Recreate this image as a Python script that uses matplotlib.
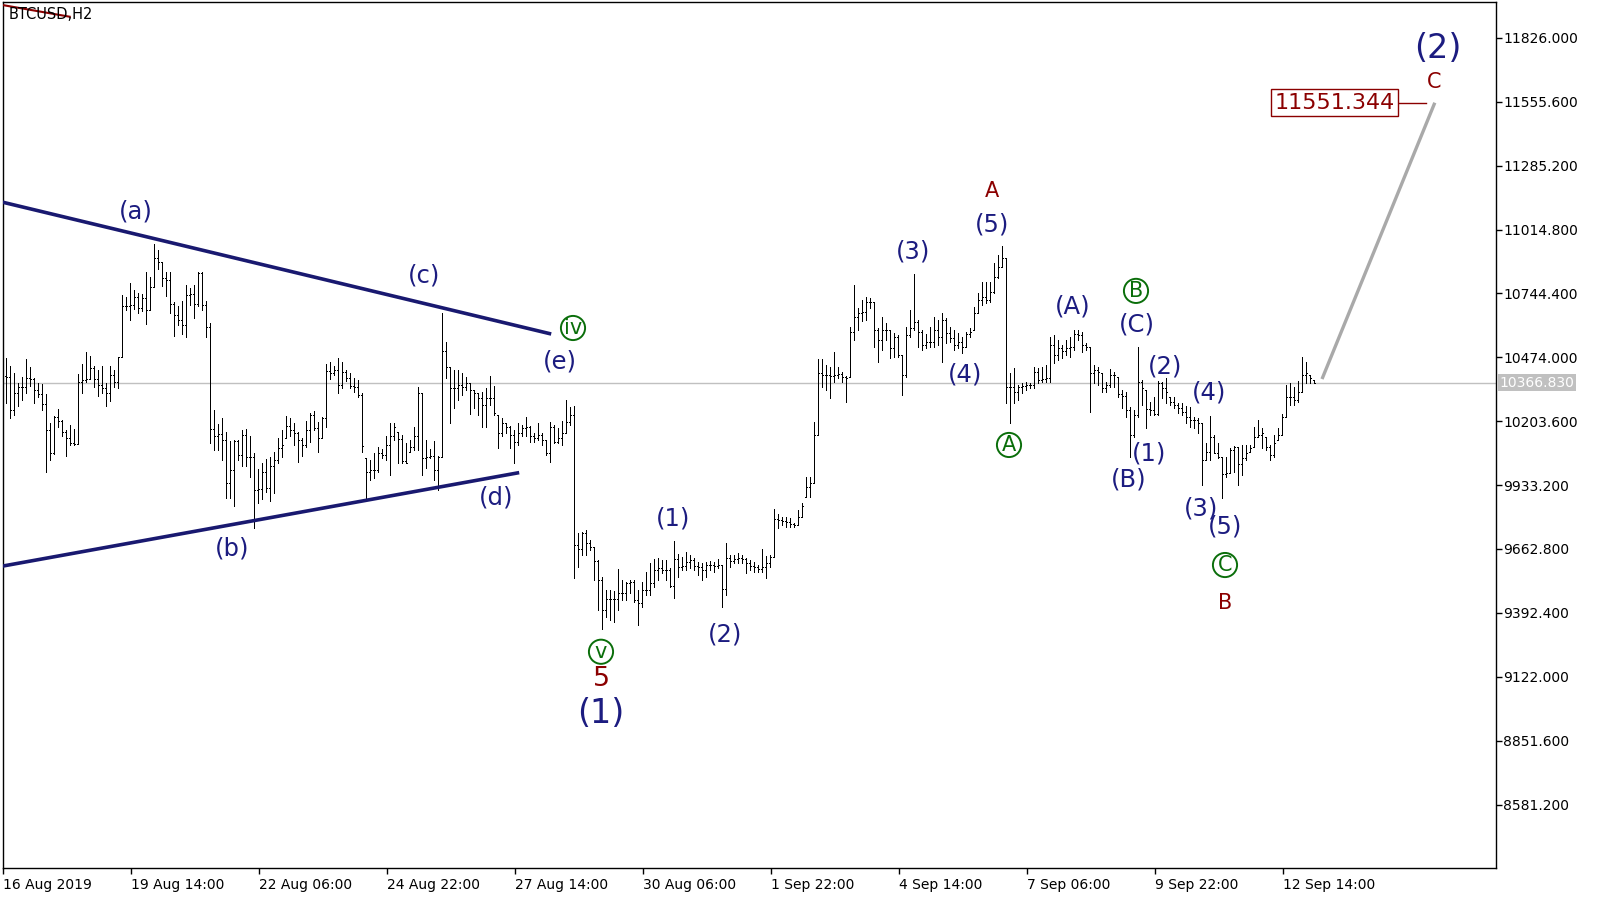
import matplotlib
matplotlib.use('Agg')
import matplotlib.pyplot as plt
import numpy as np
from matplotlib.transforms import blended_transform_factory

# ---------------- data (BTCUSD, H2 bars) ----------------
highs = [
    10470, 10438, 10406, 10364, 10392, 10467, 10431, 10385, 10364, 10361,
    10319, 10195, 10226, 10256, 10209, 10167, 10188, 10171, 10404, 10446,
    10495, 10480, 10439, 10421, 10438, 10364, 10438, 10421, 10477, 10737,
    10731, 10790, 10759, 10745, 10742, 10833, 10813, 10954, 10926, 10876,
    10833, 10833, 10710, 10689, 10714, 10780, 10766, 10780, 10833, 10833,
    10714, 10621, 10251, 10192, 10219, 10160, 10118, 10122, 10122, 10167,
    10171, 10142, 10068, 10003, 10026, 10043, 10054, 10073, 10132, 10167,
    10226, 10216, 10195, 10160, 10131, 10205, 10240, 10248, 10202, 10220,
    10446, 10456, 10437, 10473, 10456, 10420, 10409, 10385, 10378, 10322,
    10047, 10040, 10071, 10096, 10085, 10139, 10195, 10195, 10160, 10146,
    10110, 10124, 10181, 10347, 10322, 10124, 10085, 10121, 10056, 10660,
    10540, 10434, 10420, 10420, 10406, 10392, 10367, 10336, 10322, 10329,
    10343, 10395, 10353, 10230, 10216, 10195, 10183, 10167, 10195, 10188,
    10223, 10183, 10153, 10195, 10153, 10124, 10202, 10188, 10174, 10206,
    10293, 10265, 10268, 9729, 9736, 9743, 9701, 9673, 9616, 9546,
    9489, 9489, 9486, 9577, 9532, 9525, 9532, 9532, 9489, 9525,
    9567, 9602, 9619, 9623, 9616, 9616, 9581, 9697, 9642, 9630,
    9652, 9637, 9623, 9609, 9602, 9609, 9612, 9609, 9619, 9595,
    9687, 9637, 9637, 9645, 9637, 9623, 9616, 9609, 9595, 9661,
    9633, 9637, 9831, 9811, 9800, 9800, 9793, 9774, 9828, 9856,
    9969, 9969, 10202, 10465, 10465, 10441, 10434, 10498, 10434, 10413,
    10395, 10604, 10780, 10681, 10716, 10731, 10724, 10709, 10597, 10643,
    10618, 10590, 10576, 10568, 10484, 10604, 10674, 10827, 10632, 10590,
    10573, 10604, 10643, 10632, 10660, 10639, 10604, 10590, 10578, 10561,
    10583, 10597, 10688, 10745, 10794, 10794, 10794, 10872, 10907, 10945,
    10893, 10406, 10427, 10357, 10364, 10371, 10367, 10434, 10427, 10434,
    10441, 10561, 10568, 10547, 10526, 10547, 10561, 10590, 10590, 10583,
    10533, 10519, 10441, 10434, 10406, 10371, 10423, 10413, 10392, 10336,
    10329, 10265, 10251, 10519, 10378, 10336, 10286, 10308, 10374, 10371,
    10385, 10308, 10305, 10279, 10279, 10268, 10262, 10223, 10216, 10195,
    10110, 10226, 10145, 10110, 10054, 10054, 10089, 10099, 10096, 10103,
    10103, 10103, 10181, 10209, 10174, 10138, 10103, 10145, 10174, 10234,
    10357, 10364, 10350, 10374, 10474, 10456, 10399, 10378,
]
lows = [
    10280, 10219, 10230, 10266, 10294, 10322, 10354, 10282, 10308, 10251,
    9990, 10040, 10065, 10181, 10139, 10057, 10103, 10103, 10106, 10322,
    10371, 10381, 10350, 10312, 10322, 10266, 10291, 10350, 10343, 10474,
    10675, 10632, 10677, 10663, 10668, 10615, 10675, 10770, 10847, 10776,
    10734, 10660, 10565, 10611, 10573, 10558, 10696, 10639, 10689, 10675,
    10558, 10110, 10082, 10082, 10040, 9878, 9878, 9843, 10040, 10012,
    10015, 9967, 9751, 9857, 9874, 9906, 9864, 9899, 10026, 10054,
    10131, 10139, 10103, 10033, 10058, 10096, 10117, 10167, 10075, 10131,
    10178, 10381, 10399, 10322, 10343, 10375, 10343, 10329, 10308, 10075,
    9878, 9955, 9962, 9990, 10047, 10040, 9976, 10125, 10028, 10028,
    10025, 10075, 10082, 10082, 9976, 10004, 10047, 9955, 9912, 10054,
    10385, 10195, 10258, 10293, 10315, 10336, 10234, 10258, 10230, 10181,
    10181, 10272, 10230, 10089, 10139, 10153, 10089, 10025, 10103, 10139,
    10139, 10117, 10117, 10124, 10103, 10061, 10033, 10110, 10110, 10103,
    10153, 10188, 9539, 9588, 9637, 9637, 9659, 9532, 9405, 9323,
    9377, 9362, 9355, 9405, 9447, 9447, 9475, 9440, 9341, 9419,
    9468, 9468, 9503, 9532, 9560, 9532, 9503, 9454, 9546, 9574,
    9574, 9581, 9574, 9553, 9532, 9546, 9574, 9567, 9581, 9419,
    9468, 9588, 9602, 9602, 9602, 9560, 9574, 9567, 9567, 9567,
    9539, 9588, 9630, 9750, 9764, 9757, 9757, 9757, 9764, 9800,
    9884, 9884, 9941, 10145, 10350, 10336, 10300, 10371, 10385, 10371,
    10286, 10392, 10547, 10589, 10629, 10632, 10681, 10519, 10456, 10505,
    10547, 10470, 10477, 10477, 10315, 10392, 10561, 10590, 10519, 10505,
    10512, 10519, 10519, 10526, 10456, 10533, 10540, 10505, 10512, 10491,
    10519, 10561, 10590, 10660, 10695, 10702, 10709, 10745, 10808, 10855,
    10279, 10197, 10279, 10293, 10322, 10336, 10343, 10343, 10364, 10371,
    10371, 10371, 10448, 10463, 10470, 10484, 10477, 10505, 10547, 10498,
    10505, 10244, 10364, 10357, 10329, 10329, 10350, 10350, 10308, 10258,
    10223, 10054, 10138, 10223, 10272, 10174, 10230, 10230, 10230, 10300,
    10279, 10272, 10258, 10237, 10230, 10195, 10181, 10174, 10152, 9934,
    10040, 10040, 10068, 10047, 9877, 9969, 9983, 9990, 9934, 9976,
    10040, 10075, 10096, 10138, 10089, 10082, 10040, 10054, 10124, 10145,
    10223, 10272, 10272, 10286, 10329, 10364, 10364, 10364,
]
closes = [
    10392, 10251, 10322, 10350, 10350, 10385, 10383, 10336, 10319, 10277,
    10167, 10071, 10223, 10205, 10160, 10132, 10110, 10106, 10368, 10378,
    10383, 10428, 10383, 10357, 10343, 10322, 10399, 10371, 10474, 10689,
    10692, 10695, 10731, 10682, 10724, 10675, 10770, 10893, 10876, 10811,
    10799, 10700, 10653, 10632, 10611, 10738, 10741, 10700, 10830, 10696,
    10601, 10171, 10139, 10150, 10122, 9941, 9998, 10118, 10061, 10144,
    10050, 10051, 9913, 9916, 9989, 9920, 10012, 10040, 10089, 10103,
    10183, 10167, 10155, 10124, 10103, 10167, 10230, 10174, 10131, 10216,
    10418, 10406, 10420, 10357, 10413, 10385, 10353, 10350, 10315, 10099,
    9990, 9997, 9997, 10068, 10061, 10103, 10139, 10181, 10127, 10035,
    10028, 10096, 10143, 10322, 10047, 10054, 10058, 9997, 10054, 10501,
    10432, 10343, 10343, 10357, 10350, 10364, 10336, 10324, 10300, 10272,
    10300, 10300, 10240, 10153, 10195, 10181, 10146, 10117, 10153, 10174,
    10181, 10139, 10131, 10146, 10124, 10068, 10181, 10117, 10131, 10153,
    10202, 10230, 9680, 9661, 9729, 9690, 9673, 9613, 9532, 9405,
    9450, 9450, 9450, 9475, 9478, 9518, 9525, 9447, 9433, 9489,
    9489, 9518, 9574, 9581, 9574, 9574, 9506, 9619, 9588, 9591,
    9609, 9616, 9591, 9588, 9574, 9595, 9595, 9591, 9595, 9492,
    9623, 9613, 9619, 9623, 9619, 9602, 9591, 9588, 9577, 9588,
    9602, 9630, 9788, 9786, 9783, 9779, 9769, 9764, 9800, 9845,
    9927, 9941, 10145, 10406, 10399, 10399, 10396, 10399, 10403, 10392,
    10385, 10583, 10646, 10660, 10667, 10709, 10709, 10590, 10547, 10590,
    10590, 10512, 10561, 10484, 10399, 10568, 10597, 10625, 10583, 10526,
    10540, 10540, 10590, 10561, 10632, 10575, 10554, 10526, 10540, 10519,
    10573, 10583, 10660, 10717, 10731, 10717, 10752, 10815, 10858, 10893,
    10350, 10350, 10329, 10350, 10353, 10357, 10357, 10413, 10378, 10381,
    10385, 10526, 10484, 10512, 10502, 10512, 10516, 10573, 10568, 10526,
    10516, 10406, 10420, 10413, 10343, 10357, 10399, 10399, 10319, 10310,
    10251, 10145, 10230, 10371, 10343, 10254, 10251, 10234, 10364, 10343,
    10329, 10286, 10272, 10258, 10244, 10220, 10209, 10209, 10195, 10040,
    10075, 10138, 10068, 10054, 9980, 9983, 10082, 10096, 10023, 10047,
    10068, 10092, 10138, 10145, 10152, 10096, 10061, 10110, 10145, 10223,
    10308, 10308, 10293, 10329, 10399, 10406, 10385, 10366.83,
]
first_open = 10395
# gapless bars: each bar opens where the previous one closed
opens = np.clip([first_open] + closes[:-1], lows, highs)

date_labels = ["16 Aug 2019", "19 Aug 14:00", "22 Aug 06:00", "24 Aug 22:00",
               "27 Aug 14:00", "30 Aug 06:00", "1 Sep 22:00", "4 Sep 14:00",
               "7 Sep 06:00", "9 Sep 22:00", "12 Sep 14:00"]
bars_per_label = 32
price_ticks = [8581.2, 8851.6, 9122.0, 9392.4, 9662.8, 9933.2, 10203.6,
               10474.0, 10744.4, 11014.8, 11285.2, 11555.6, 11826.0]
last_price = 10366.83
target_price = 11551.344

# ---------------- figure ----------------
NAVY = '#1c1c80'
LINE_NAVY = '#191970'
GREEN = '#0a6e0a'
MAROON = '#8b0000'

fig = plt.figure(figsize=(16.01, 9.0), dpi=100)
ax = fig.add_axes([2.5 / 1601, 32 / 900, 1493.5 / 1601, 866 / 900])
ax.set_xlim(-0.875, 372.5)
ax.set_ylim(8312.9, 11977.5)

x = np.arange(len(closes))
ax.axhline(last_price, color='#c0c0c0', lw=1.0, zorder=1)
ax.vlines(x, lows, highs, color='black', lw=0.72, antialiased=False, zorder=3)
ax.hlines(opens, x - 0.32, x, color='black', lw=0.72, antialiased=False, zorder=3)
ax.hlines(closes, x, x + 0.32, color='black', lw=0.72, antialiased=False, zorder=3)

# triangle trendlines
ax.plot([-1, 136.3], [11131, 10572.6], color=LINE_NAVY, lw=2.6,
        solid_capstyle='butt', zorder=4)
ax.plot([-1, 128.3], [9590, 9986], color=LINE_NAVY, lw=2.6,
        solid_capstyle='butt', zorder=4)

# projection line
ax.plot([329, 357.2], [10382, target_price], color='#a9a9a9', lw=2.4,
        solid_capstyle='butt', zorder=4)
ax.plot([348, 355], [target_price, target_price], color=MAROON, lw=1.0, zorder=4)
ax.text(332.1, target_price, f'{target_price:.3f}', color=MAROON, fontsize=16,
        ha='center', va='center', zorder=5,
        bbox=dict(boxstyle='square,pad=0.15', fc='white', ec=MAROON, lw=1.0))


def lab(xp, yp, s, size=17.5, color=NAVY, weight='normal'):
    ax.text(xp, yp, s, fontsize=size, color=color, ha='center', va='center',
            fontweight=weight, zorder=6)


def circ(xp, yp, s):
    ax.text(xp, yp, s, fontsize=15, color=GREEN, ha='center', va='center',
            zorder=6,
            bbox=dict(boxstyle='circle,pad=0.1', fc='none', ec=GREEN, lw=1.4))


lab(32.5, 11093, '(a)')
lab(56.5, 9663, '(b)')
lab(104.5, 10822, '(c)')
lab(122.5, 9879, '(d)')
lab(138.5, 10458, '(e)')
circ(141.75, 10598, 'iv')
circ(148.75, 9228, 'v')
lab(148.75, 9112, '5', size=19.5, color=MAROON)
lab(148.75, 8968, '(1)', size=24)
lab(166.75, 9790, '(1)')
lab(179.75, 9299, '(2)')
lab(226.75, 10920, '(3)')
lab(239.75, 10403, '(4)')
lab(246.5, 11038, '(5)')
lab(246.5, 11178, 'A', size=15, color=MAROON)
circ(250.75, 10103, 'A')
lab(266.75, 10691, '(A)')
circ(282.5, 10755, 'B')
lab(282.75, 10611, '(C)')
lab(289.75, 10437, '(2)')
lab(300.75, 10323, '(4)')
lab(285.75, 10069, '(1)')
lab(280.75, 9955, '(B)')
lab(298.75, 9836, '(3)')
lab(304.75, 9760, '(5)')
circ(304.75, 9595, 'C')
lab(304.75, 9434, 'B', size=15, color=MAROON)
lab(358, 11779, '(2)', size=24)
lab(357, 11639, 'C', size=15, color=MAROON)

# header
ax.plot([0.0, 0.045], [0.9965, 0.983], transform=ax.transAxes, color=MAROON,
        lw=1.5, zorder=5)
ax.text(0.004, 0.994, 'BTCUSD,H2', transform=ax.transAxes, fontsize=10.5,
        va='top', ha='left', color='black', zorder=6)

# axes
ax.yaxis.tick_right()
ax.set_yticks(price_ticks)
ax.set_yticklabels([f'{v:.3f}' for v in price_ticks])
ax.tick_params(axis='y', length=4, width=1, pad=1, labelsize=10, direction='out')

tick_pos = [bars_per_label * k - 0.8 for k in range(len(date_labels))]
ax.set_xticks(tick_pos)
ax.set_xticklabels(date_labels, ha='left')
ax.tick_params(axis='x', length=4, width=1, pad=3, labelsize=10, direction='out')
for s in ax.spines.values():
    s.set_color('black')
    s.set_linewidth(1.0)

trans = blended_transform_factory(ax.transAxes, ax.transData)
ax.text(1.0025, last_price, f'{last_price:.3f}', transform=trans, color='white',
        fontsize=10, va='center', ha='left', clip_on=False,
        bbox=dict(boxstyle='square,pad=0.12', fc='#c0c0c0', ec='none'))

fig.savefig('out.png', dpi=100, facecolor='white')
